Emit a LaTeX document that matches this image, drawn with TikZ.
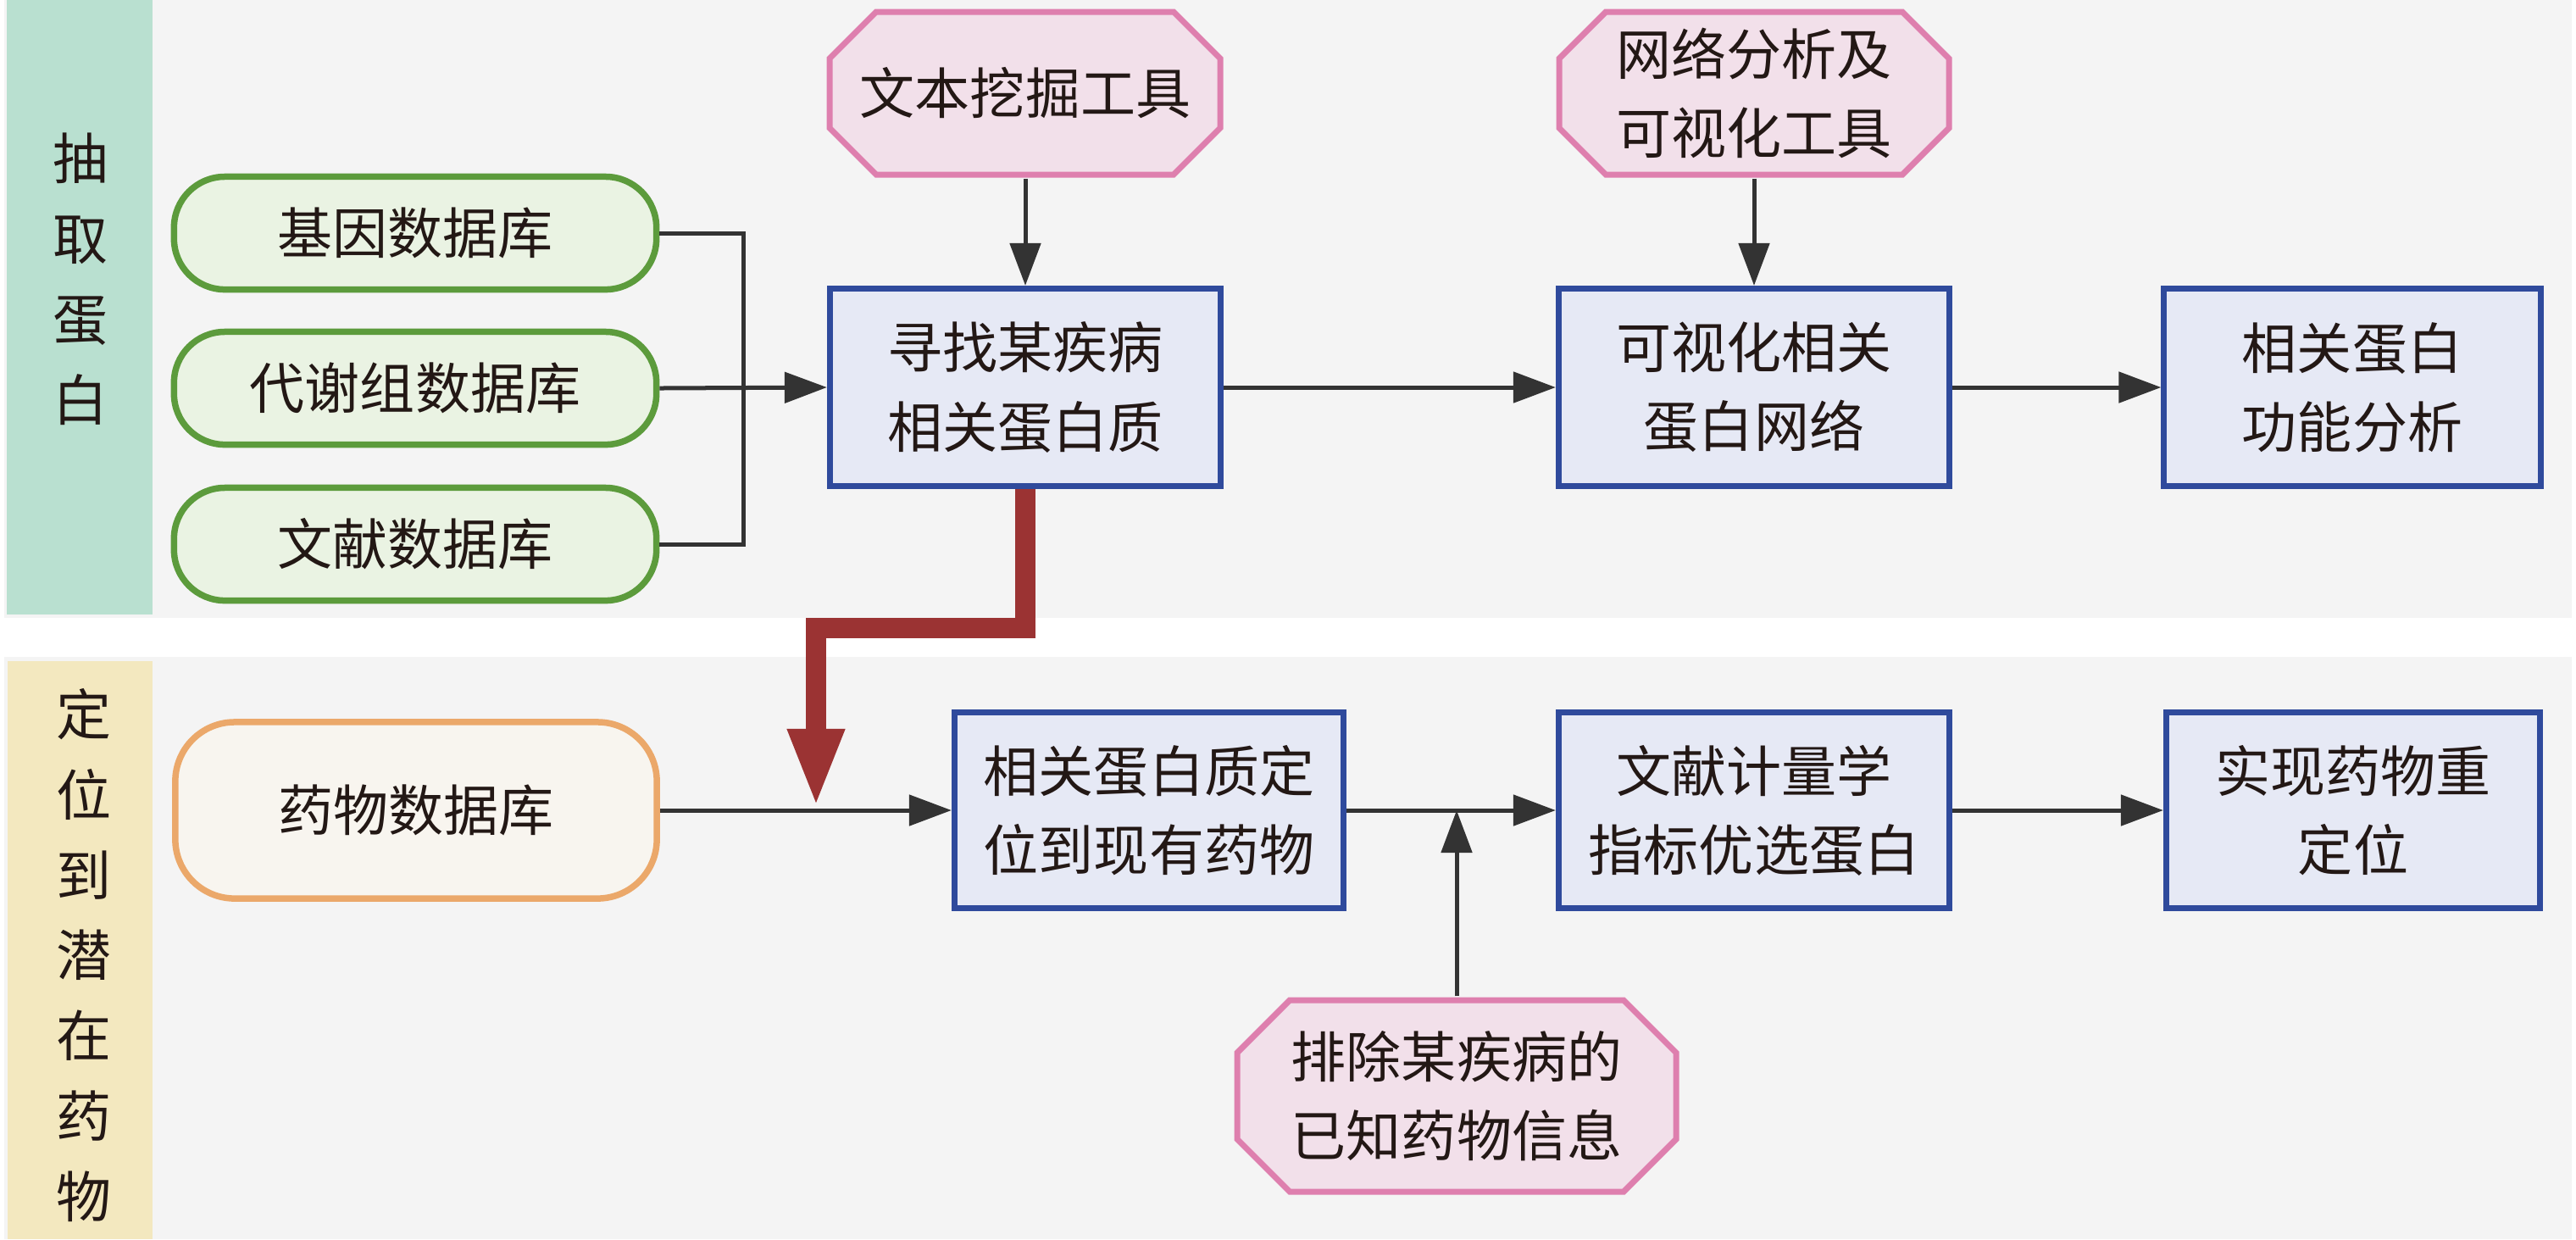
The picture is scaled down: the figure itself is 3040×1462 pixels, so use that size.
\documentclass[tikz,border=0pt]{standalone}
\usepackage{fontspec}
\setmainfont{Noto Sans CJK SC}
\usetikzlibrary{arrows.meta}
\definecolor{panelc}{HTML}{F4F4F4}
\definecolor{stripA}{HTML}{B9E0D0}
\definecolor{stripB}{HTML}{F3E8BF}
\definecolor{greenB}{HTML}{5C9B3C}
\definecolor{greenF}{HTML}{EAF3E3}
\definecolor{orangeB}{HTML}{EBA86A}
\definecolor{orangeF}{HTML}{F8F5EF}
\definecolor{blueB}{HTML}{2F4A9C}
\definecolor{blueF}{HTML}{E6E9F5}
\definecolor{pinkB}{HTML}{DE7FAE}
\definecolor{pinkF}{HTML}{F2E0EA}
\definecolor{arrc}{HTML}{333333}
\definecolor{redc}{HTML}{9B3333}
\definecolor{txt}{HTML}{231815}
\newcommand\myocta[5]{%
  \filldraw[octline] ({#1+#5},#2) -- ({#3-#5},#2) -- (#3,{#2+#5}) -- (#3,{#4-#5})
    -- ({#3-#5},#4) -- ({#1+#5},#4) -- (#1,{#4-#5}) -- (#1,{#2+#5}) -- cycle;}
\tikzset{
  base/.style={text=txt, font=\fontsize{18.5pt}{26.5pt}\selectfont, align=center, inner sep=0pt},
  pillg/.style={base, draw=greenB, fill=greenF, line width=0.075cm, rounded corners=0.6cm, minimum width=5.69cm, minimum height=1.33cm},
  pillo/.style={base, draw=orangeB, fill=orangeF, line width=0.075cm, rounded corners=0.7cm, minimum width=5.68cm, minimum height=2.08cm},
  boxb/.style={base, draw=blueB, fill=blueF, line width=0.07cm, minimum width=4.61cm, minimum height=2.33cm},
  octline/.style={draw=pinkB, fill=pinkF, line width=0.07cm, line join=miter},
  octo/.style={base, minimum width=4.69cm, minimum height=2.00cm},
  side/.style={text=txt, font=\fontsize{18.5pt}{27pt}\selectfont, align=center, inner sep=0pt},
  conn/.style={draw=arrc, line width=0.05cm},
  arr/.style={conn, -{Triangle[length=0.5cm,width=0.36cm]}},
  redarr/.style={draw=redc, line width=0.24cm, -{Triangle[length=0.93cm,width=0.61cm]}}
}
\begin{document}
\begin{tikzpicture}[x=0.01cm,y=-0.01cm]
\useasboundingbox (0,0) rectangle (3040,1462);
\fill[white] (0,0) rectangle (3040,1462);
% panels
\fill[panelc] (5,0) rectangle (3035,729);
\fill[panelc] (5,775) rectangle (3035,1462);
\fill[stripA] (8,0) rectangle (180,725);
\fill[stripB] (9,780) rectangle (180,1462);
\node[side] (labA) at (95,329) {抽\\取\\蛋\\白};
\node[side] (labB) at (99,1127) {定\\位\\到\\潜\\在\\药\\物};
% octagon outlines
\myocta{979}{14}{1440}{206}{55}
\myocta{1840}{14}{2300}{206}{55}
\myocta{1460}{1180}{1978}{1406}{62}
% top row
\node[pillg] (g1) at (490,275) {基因数据库};
\node[pillg] (g2) at (490,458) {代谢组数据库};
\node[pillg] (g3) at (490,642) {文献数据库};
\node[boxb] (find) at (1210,457) {寻找某疾病\\相关蛋白质};
\node[boxb] (vis) at (2070,457) {可视化相关\\蛋白网络};
\node[boxb, minimum width=4.44cm] (func) at (2776,457) {相关蛋白\\功能分析};
\node[octo] (tm) at (1210,110) {文本挖掘工具};
\node[octo] (net) at (2070,110) {网络分析及\\可视化工具};
% bottom row
\node[pillo] (drug) at (491,956) {药物数据库};
\node[boxb, minimum width=4.59cm, minimum height=2.30cm] (loc) at (1356,956) {相关蛋白质定\\位到现有药物};
\node[boxb, minimum height=2.30cm] (bib) at (2070,956) {文献计量学\\指标优选蛋白};
\node[boxb, minimum width=4.41cm, minimum height=2.30cm] (fin) at (2777,956) {实现药物重\\定位};
\node[octo, minimum width=5.26cm, minimum height=2.34cm] (ex) at (1719,1293) {排除某疾病的\\已知药物信息};
% coordinates
\coordinate (jA) at (877,458);
\coordinate (r1) at (find.south |- 0,741);
\coordinate (r2) at (963,741);
\coordinate (rt) at (963,953);
\coordinate (jB) at (ex.north |- loc.east);
% connectors top
\draw[conn] (g1.east) -| (jA);
\draw[conn] (g3.east) -| (jA);
\draw[arr] (g2.east) -- (find.west);
\draw[arr] (tm.south) -- (find.north);
\draw[arr] (find.east) -- (vis.west);
\draw[arr] (net.south) -- (vis.north);
\draw[arr] (vis.east) -- (func.west);
% connectors bottom
\draw[arr] (drug.east) -- (loc.west);
\draw[arr] (loc.east) -- (bib.west);
\draw[arr] (ex.north) -- (jB);
\draw[arr] (bib.east) -- (fin.west);
% red arrow
\draw[redarr] (find.south) -- (r1) -- (r2) -- (rt);
\end{tikzpicture}
\end{document}
